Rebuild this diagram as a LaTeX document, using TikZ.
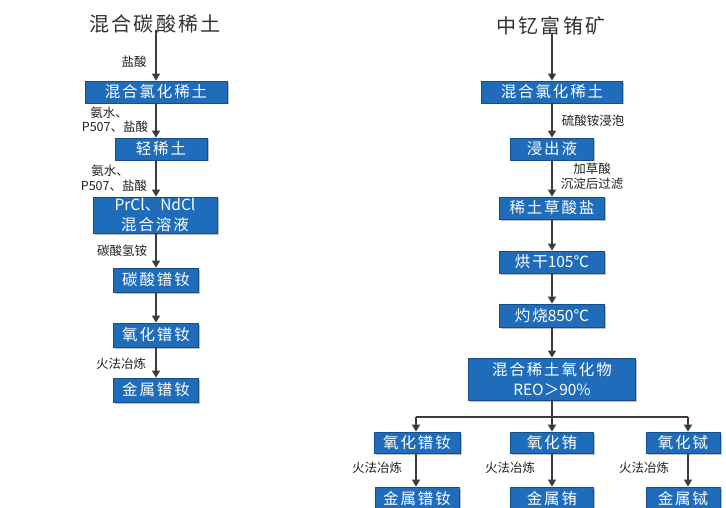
\documentclass[tikz,border=0pt]{standalone}
\usepackage{fontspec}
\setmainfont{Noto Sans CJK SC}
\newfontfamily\boxfont[LetterSpace=12]{Noto Sans CJK SC}
\newfontfamily\boxlatin{Noto Sans CJK SC}
\newfontfamily\ttlfont[LetterSpace=12]{Noto Sans CJK SC}
\usetikzlibrary{arrows.meta,shadows}
\definecolor{boxblue}{RGB}{31,109,186}
\definecolor{boxedge}{RGB}{22,78,140}
\definecolor{arrowgray}{RGB}{60,60,60}
\definecolor{txt}{RGB}{34,34,34}
\definecolor{ttltxt}{RGB}{50,50,50}
\begin{document}
\begin{tikzpicture}[x=1pt,y=-1pt,
 stepbox/.style={draw=boxedge, line width=0.8pt, fill=boxblue, text=white, inner sep=0pt, align=center,
   font=\boxfont\fontsize{15.5}{19.5}\selectfont,
   drop shadow={shadow xshift=1.5pt,shadow yshift=-1.5pt,fill=black,opacity=0.25}},
 ttl/.style={font=\ttlfont\fontsize{20}{24}\selectfont, text=ttltxt, inner sep=0pt},
 lbl/.style={font=\fontsize{12.5}{14}\selectfont, text=txt, inner sep=0pt},
 arr/.style={draw=arrowgray, line width=1.1pt, -{Triangle[width=8pt,length=7pt]}},
 ln/.style={draw=arrowgray, line width=1.1pt}]
\useasboundingbox[fill=white] (0,0) rectangle (726,508);

% ---------- left column ----------
\node[ttl] (t1) at (155,24) {混合碳酸稀土};
\node[stepbox, minimum width=142pt, minimum height=22pt] (L1) at (156,92) {混合氯化稀土};
\node[stepbox, minimum width=92pt, minimum height=22pt] (L2) at (161,149) {轻稀土};
\node[stepbox, minimum width=124pt, minimum height=36pt] (L3) at (155,215) {{\boxlatin PrCl}、{\boxlatin NdCl}\\混合溶液};
\node[stepbox, minimum width=85pt, minimum height=24pt] (L4) at (156,280) {碳酸镨钕};
\node[stepbox, minimum width=85pt, minimum height=24pt] (L5) at (156,335) {氧化镨钕};
\node[stepbox, minimum width=85pt, minimum height=24pt] (L6) at (156,390) {金属镨钕};

\node[lbl] (a1) at (134,62) {盐酸};
\node[lbl] (a2) at (109,113) {氨水、};
\node[lbl] (a3) at (115,127) {P507、盐酸};
\node[lbl] (a4) at (110,171) {氨水、};
\node[lbl] (a5) at (114,186) {P507、盐酸};
\node[lbl] (a6) at (122,251) {碳酸氢铵};
\node[lbl] (a7) at (121,364) {火法冶炼};

\draw[arr] ([yshift=3pt]t1.south -| L1) -- (L1.north);
\draw[arr] (L1.south) -- (L1.south |- L2.north);
\draw[arr] (L2.south -| L1) -- (L1 |- L3.north);
\draw[arr] (L3.south -| L1) -- (L4.north);
\draw[arr] (L4.south) -- (L5.north);
\draw[arr] (L5.south) -- (L6.north);

% ---------- right column ----------
\node[ttl] (t2) at (551,26) {中钇富铕矿};
\node[stepbox, minimum width=141pt, minimum height=22pt] (R1) at (552,92) {混合氯化稀土};
\node[stepbox, minimum width=83pt, minimum height=22pt] (R2) at (552,149) {浸出液};
\node[stepbox, minimum width=105pt, minimum height=22pt] (R3) at (552,208) {稀土草酸盐};
\node[stepbox, minimum width=105pt, minimum height=22pt] (R4) at (552,262) {烘干{\boxlatin 105℃}};
\node[stepbox, minimum width=105pt, minimum height=23pt] (R5) at (552,315.5) {灼烧{\boxlatin 850℃}};
\node[stepbox, minimum width=167pt, minimum height=42pt] (R6) at (552,379) {混合稀土氧化物\\{\boxlatin REO＞90\%}};

\node[lbl] (b1) at (593,121) {硫酸铵浸泡};
\node[lbl] (b2) at (592,169) {加草酸};
\node[lbl] (b3) at (592,184) {沉淀后过滤};

\draw[arr] ([yshift=3pt]t2.south -| R1) -- (R1.north);
\draw[arr] (R1.south) -- (R2.north);
\draw[arr] (R2.south) -- (R3.north);
\draw[arr] (R3.south) -- (R4.north);
\draw[arr] (R4.south) -- (R5.north);
\draw[arr] (R5.south) -- (R6.north);

% ---------- branches ----------
\coordinate (j) at (552,417);
\coordinate (jl) at (416,417);
\coordinate (jr) at (688,417);

\node[stepbox, minimum width=86pt, minimum height=21pt] (B1) at (417,442.5) {氧化镨钕};
\node[stepbox, minimum width=83pt, minimum height=21pt] (B2) at (552,442.5) {氧化铕};
\node[stepbox, minimum width=74pt, minimum height=21pt] (B3) at (683,442.5) {氧化铽};
\node[stepbox, minimum width=84pt, minimum height=24pt] (C1) at (417,499) {金属镨钕};
\node[stepbox, minimum width=83pt, minimum height=24pt] (C2) at (552,499) {金属铕};
\node[stepbox, minimum width=74pt, minimum height=24pt] (C3) at (683,499) {金属铽};

\node[lbl, anchor=west] (c1) at (352,468) {火法冶炼};
\node[lbl, anchor=west] (c2) at (485,468) {火法冶炼};
\node[lbl, anchor=west] (c3) at (619,468) {火法冶炼};

\draw[ln] (R6.south) -- (j);
\draw[ln] (jl) -- (jr);
\draw[arr] (jl) -- (jl |- B1.north);
\draw[arr] (j) -- (B2.north);
\draw[arr] (jr) -- (jr |- B3.north);
\draw[arr] (B1.south -| jl) -- (jl |- C1.north);
\draw[arr] (B2.south) -- (C2.north);
\draw[arr] (B3.south -| jr) -- (jr |- C3.north);
\end{tikzpicture}
\end{document}
